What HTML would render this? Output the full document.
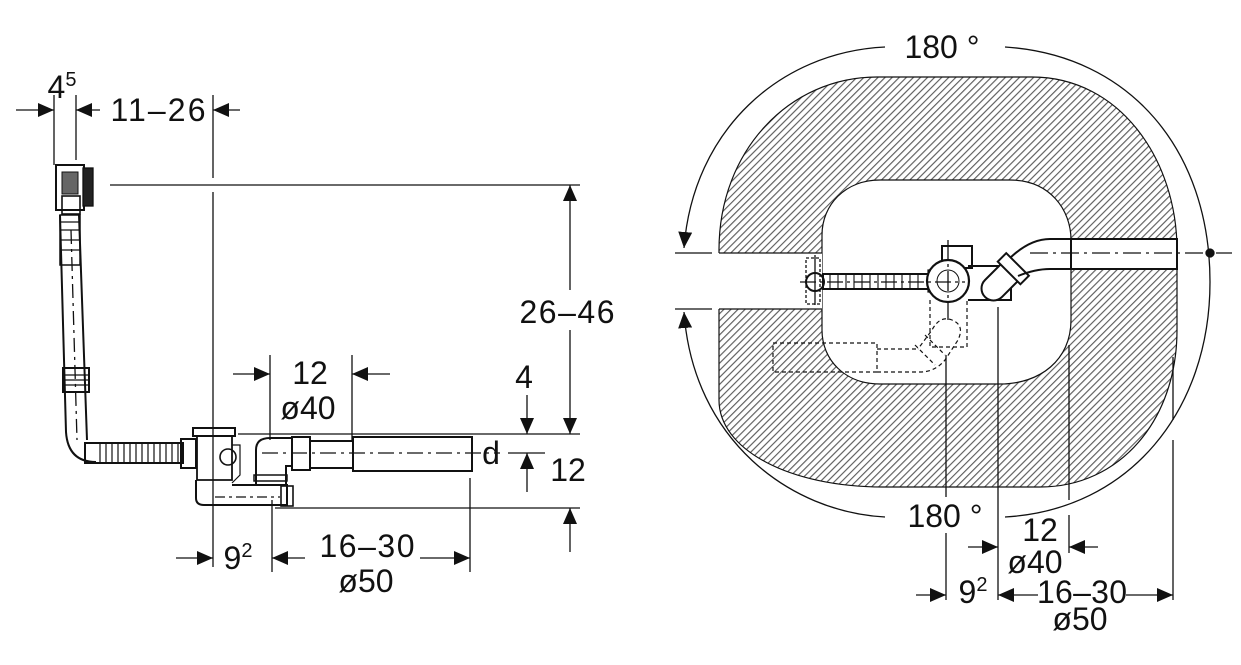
<!DOCTYPE html>
<html><head><meta charset="utf-8"><style>
html,body{margin:0;padding:0;background:#fff;}
svg{display:block;}
text{font-family:"Liberation Sans",sans-serif;font-size:32px;fill:#111;stroke:none;text-anchor:middle;}
</style></head><body>
<svg width="1241" height="665" viewBox="0 0 1241 665" xmlns="http://www.w3.org/2000/svg">
<defs>
<marker id="a" viewBox="0 0 16 14" refX="16" refY="7" markerWidth="16" markerHeight="14" markerUnits="userSpaceOnUse" orient="auto"><path d="M0,0 L16,7 L0,14 Z" fill="#111" stroke="none"/></marker>
<pattern id="h" patternUnits="userSpaceOnUse" width="5" height="5" patternTransform="rotate(-45)"><rect width="5" height="5" fill="#fff"/><line x1="0" y1="0.6" x2="5" y2="0.6" stroke="#555" stroke-width="1.1"/></pattern>
</defs>
<g stroke="#111" stroke-width="1.3" fill="none">
<line x1="54" y1="95" x2="54" y2="165"/>
<line x1="76" y1="95" x2="76" y2="160"/>
<line x1="213" y1="95" x2="213" y2="178"/>
<line x1="213" y1="192" x2="213" y2="567"/>
<line x1="110" y1="185" x2="580" y2="185"/>
<line x1="238" y1="434" x2="580" y2="434"/>
<line x1="275" y1="508" x2="580" y2="508"/>
<line x1="508" y1="453" x2="545" y2="453"/>
<line x1="270" y1="355" x2="270" y2="440"/>
<line x1="352" y1="355" x2="352" y2="440"/>
<line x1="272" y1="500" x2="272" y2="572"/>
<line x1="470" y1="478" x2="470" y2="572"/>
<line x1="16" y1="110" x2="54" y2="110" marker-end="url(#a)"/>
<line x1="100" y1="110" x2="76" y2="110" marker-end="url(#a)"/>
<line x1="240" y1="110" x2="213" y2="110" marker-end="url(#a)"/>
<line x1="570" y1="290" x2="570" y2="185" marker-end="url(#a)"/>
<line x1="570" y1="330" x2="570" y2="434" marker-end="url(#a)"/>
<line x1="570" y1="552" x2="570" y2="508" marker-end="url(#a)"/>
<line x1="527" y1="395" x2="527" y2="434" marker-end="url(#a)"/>
<line x1="527" y1="492" x2="527" y2="453" marker-end="url(#a)"/>
<line x1="233" y1="374" x2="270" y2="374" marker-end="url(#a)"/>
<line x1="390" y1="374" x2="352" y2="374" marker-end="url(#a)"/>
<line x1="176" y1="558" x2="213" y2="558" marker-end="url(#a)"/>
<line x1="305" y1="558" x2="272" y2="558" marker-end="url(#a)"/>
<line x1="420" y1="558" x2="470" y2="558" marker-end="url(#a)"/>
<rect x="56" y="165" width="28" height="45" stroke-width="2"/>
<rect x="83" y="168" width="10" height="38" fill="#222"/>
<rect x="62" y="172" width="16" height="22" fill="#666" stroke-width="1"/>
<rect x="62" y="196" width="18" height="18" stroke-width="1.6"/>
<path d="M60,215 L66,432 Q68,462 96,462 M79,215 L87,440" stroke-width="2"/>
<path d="M60,215 h20 v50 h-20 z" stroke-width="1.5"/>
<line x1="61" y1="222" x2="80" y2="222"/><line x1="61" y1="230" x2="80" y2="230"/><line x1="61" y1="240" x2="80" y2="240"/><line x1="61" y1="250" x2="80" y2="250"/>
<rect x="63" y="368" width="26" height="24" stroke-width="2"/>
<line x1="64" y1="375" x2="88" y2="375"/><line x1="64" y1="380" x2="88" y2="380"/><line x1="64" y1="385" x2="88" y2="385"/>
<line x1="71" y1="230" x2="77" y2="440" stroke-dasharray="14 5 3 5"/>
<rect x="85" y="443" width="98" height="20" stroke-width="2"/>
<g stroke-width="1.2">
<line x1="100" y1="444" x2="100" y2="462"/><line x1="106" y1="444" x2="106" y2="462"/><line x1="112" y1="444" x2="112" y2="462"/><line x1="118" y1="444" x2="118" y2="462"/><line x1="124" y1="444" x2="124" y2="462"/><line x1="130" y1="444" x2="130" y2="462"/><line x1="136" y1="444" x2="136" y2="462"/><line x1="142" y1="444" x2="142" y2="462"/><line x1="148" y1="444" x2="148" y2="462"/><line x1="154" y1="444" x2="154" y2="462"/><line x1="160" y1="444" x2="160" y2="462"/><line x1="166" y1="444" x2="166" y2="462"/><line x1="172" y1="444" x2="172" y2="462"/><line x1="178" y1="444" x2="178" y2="462"/>
</g>
<rect x="181" y="439" width="15" height="29" stroke-width="2"/>
<rect x="193" y="428" width="42" height="8" stroke-width="2"/>
<path d="M197,436 L232,436 L232,480 L197,480 Z" stroke-width="1.8"/>
<circle cx="228" cy="457" r="8" stroke-width="1.6"/>
<path d="M232,445 h8 v30 l-8,8" stroke-width="1.2"/>
<path d="M196,480 L196,498 Q196,505 204,505 L287,505 L287,485 L232,485" stroke-width="2"/>
<rect x="281" y="486" width="12" height="20" stroke-width="1.6"/>
<path d="M256,485 L256,450 Q256,438 270,438 L292,438 M286,485 L286,466 L292,466" stroke-width="2"/>
<rect x="254" y="475" width="33" height="6" stroke-width="1.5"/>
<rect x="292" y="437" width="18" height="33" stroke-width="2"/>
<rect x="310" y="441" width="43" height="27" stroke-width="2"/>
<rect x="353" y="437" width="119" height="34" stroke-width="2"/>
<line x1="262" y1="453" x2="500" y2="453" stroke-dasharray="16 5 3 5"/>
<line x1="215" y1="497" x2="280" y2="497" stroke-dasharray="10 4 3 4"/>
<text x="62" y="98">4<tspan font-size="20" dy="-12">5</tspan></text>
<text x="158" y="121" textLength="95">11–26</text>
<text x="567" y="323" textLength="95">26–46</text>
<text x="310" y="384">12</text>
<text x="308" y="419">ø40</text>
<text x="524" y="388">4</text>
<text x="491" y="464">d</text>
<text x="568" y="481">12</text>
<text x="238" y="569">9<tspan font-size="20" dy="-12">2</tspan></text>
<text x="367" y="557" textLength="95">16–30</text>
<text x="366" y="592">ø50</text>

<path fill="url(#h)" stroke-width="1.2" fill-rule="evenodd" d="
M877,77 L1032,77 C1120,77 1177,160 1177,250 L1177,330 C1177,420 1120,487 1040,487 L883,487 C790,487 719,450 719,400 L719,250 C719,150 790,77 877,77 Z
M880,180 L1010,180 C1050,180 1071,210 1071,240 L1071,320 C1071,360 1040,384 1000,384 L880,384 C845,384 822,360 822,330 L822,235 C822,205 845,180 880,180 Z"/>
<rect x="712" y="253" width="110" height="56" fill="#fff" stroke="none"/>
<line x1="719" y1="253" x2="822" y2="253"/>
<line x1="719" y1="309" x2="822" y2="309"/>
<rect x="1071" y="239" width="106" height="30" fill="#fff" stroke-width="2"/>
<path d="M885,47 C780,52 693,130 684,248" marker-end="url(#a)"/>
<path d="M885,517 C790,512 693,440 684,312" marker-end="url(#a)"/>
<path d="M1005,47 C1130,55 1210,150 1210,282 C1210,410 1130,510 1005,517"/>
<line x1="675" y1="253" x2="712" y2="253"/>
<line x1="675" y1="309" x2="712" y2="309"/>
<circle cx="1210" cy="253" r="4" fill="#111"/>
<rect x="823" y="274" width="105" height="15" stroke-width="2"/>
<g stroke-width="1.1">
<line x1="830" y1="274" x2="830" y2="289"/><line x1="838" y1="274" x2="838" y2="289"/><line x1="846" y1="274" x2="846" y2="289"/><line x1="854" y1="274" x2="854" y2="289"/><line x1="862" y1="274" x2="862" y2="289"/><line x1="870" y1="274" x2="870" y2="289"/><line x1="878" y1="274" x2="878" y2="289"/><line x1="886" y1="274" x2="886" y2="289"/><line x1="894" y1="274" x2="894" y2="289"/><line x1="902" y1="274" x2="902" y2="289"/><line x1="910" y1="274" x2="910" y2="289"/><line x1="918" y1="274" x2="918" y2="289"/>
</g>
<circle cx="815" cy="282" r="9" stroke-width="2"/>
<rect x="806" y="258" width="14" height="46" stroke-dasharray="3 2"/>
<line x1="815" y1="255" x2="815" y2="305"/>
<rect x="928" y="270" width="6" height="22" stroke-width="1.2"/>
<rect x="942" y="246" width="30" height="22" stroke-width="2"/>
<circle cx="948" cy="281" r="21" fill="#fff" stroke-width="2.2"/>
<circle cx="948" cy="281" r="11" stroke-width="1"/>
<path d="M968,266 L1011,266 L1011,300 L968,300" stroke-width="2"/>
<g transform="rotate(-45 1002 280)">
<path d="M990,268 L1014,268 L1014,292 L990,292 A12 12 0 0 1 990,268 Z" fill="#fff" stroke-width="2"/>
<rect x="1012" y="264" width="12" height="32" fill="#fff" stroke-width="2"/>
</g>
<path d="M1010,258 Q1030,239 1050,239 L1071,239 M1018,276 Q1035,269 1050,269 L1071,269" stroke-width="2"/>
<line x1="1071" y1="239" x2="1071" y2="269" stroke-width="2"/>
<g stroke-dasharray="4 3" stroke-width="1.2">
<path d="M930,300 L930,347 L967,347 L967,300"/>
<rect x="773" y="343" width="104" height="29"/>
<path d="M877,349 L918,349 M877,372 L920,372 Q935,372 945,360 L958,340 Q965,325 952,320 Q940,315 932,330 L918,349"/>
<path d="M915,345 L935,365 M925,335 L945,355"/>
</g>
<line x1="800" y1="282" x2="965" y2="282" stroke-dasharray="16 4 3 4"/>
<line x1="1030" y1="253" x2="1232" y2="253" stroke-dasharray="18 5 3 5"/>
<line x1="948" y1="240" x2="948" y2="320" stroke-dasharray="20 4 3 4"/>
<line x1="946" y1="355" x2="946" y2="497"/>
<line x1="946" y1="533" x2="946" y2="600"/>
<line x1="998" y1="307" x2="998" y2="600"/>
<line x1="1069" y1="345" x2="1069" y2="500"/>
<line x1="1069" y1="515" x2="1069" y2="553"/>
<line x1="1173" y1="357" x2="1173" y2="420"/>
<line x1="1173" y1="440" x2="1173" y2="600"/>
<line x1="968" y1="547" x2="998" y2="547" marker-end="url(#a)"/>
<line x1="1098" y1="547" x2="1069" y2="547" marker-end="url(#a)"/>
<line x1="916" y1="595" x2="946" y2="595" marker-end="url(#a)"/>
<line x1="1038" y1="595" x2="998" y2="595" marker-end="url(#a)"/>
<line x1="1126" y1="595" x2="1173" y2="595" marker-end="url(#a)"/>
<text x="942" y="58">180 °</text>
<text x="945" y="527">180 °</text>
<text x="1040" y="541">12</text>
<text x="1035" y="573">ø40</text>
<text x="973" y="603">9<tspan font-size="20" dy="-12">2</tspan></text>
<text x="1082" y="603" textLength="90">16–30</text>
<text x="1080" y="630">ø50</text>
</g>
</svg>
</body></html>
